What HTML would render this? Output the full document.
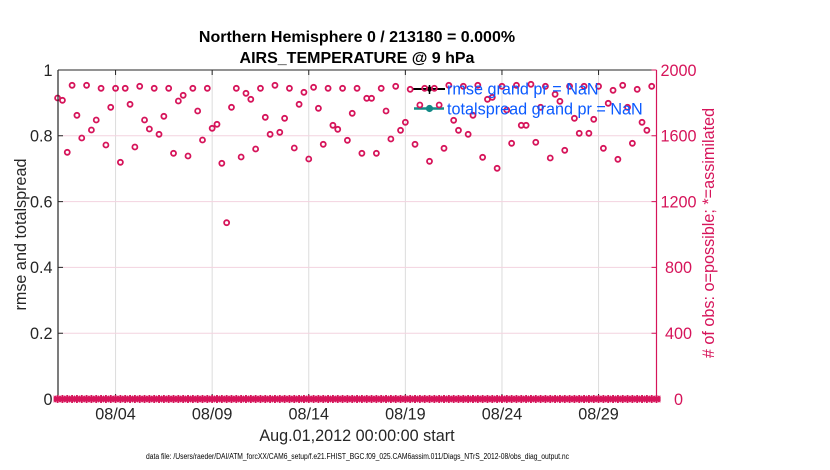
<!DOCTYPE html>
<html><head><meta charset="utf-8"><style>
html,body{margin:0;padding:0;background:#fff;}
svg{display:block;font-family:"Liberation Sans",Arial,sans-serif;}
</style></head><body>
<svg width="830" height="470" viewBox="0 0 830 470" xmlns="http://www.w3.org/2000/svg">
<defs>
<pattern id="ast" patternUnits="userSpaceOnUse" x="55.185" y="394.5" width="4.83" height="9">
<g fill="none" stroke="#d6145a" stroke-width="1.9">
<path d="M2.415 0.5v8M-2.415 0.5v8M7.245 0.5v8M0 4.5h4.83"/>
<path d="M-0.585 1.5l6 6M5.415 1.5l-6 6M-5.415 1.5l6 6M0.585 1.5l-6 6M4.245 1.5l6 6M10.245 1.5l-6 6"/>
</g>
</pattern>
</defs>
<rect width="830" height="470" fill="#fff"/>
<!-- grid -->
<g stroke="#dcdcdc" stroke-width="1">
<line x1="115.56" y1="70" x2="115.56" y2="399"/>
<line x1="212.16" y1="70" x2="212.16" y2="399"/>
<line x1="308.76" y1="70" x2="308.76" y2="399"/>
<line x1="405.36" y1="70" x2="405.36" y2="399"/>
<line x1="501.96" y1="70" x2="501.96" y2="399"/>
<line x1="598.56" y1="70" x2="598.56" y2="399"/>
</g>
<g stroke="#f3d3df" stroke-width="1">
<line x1="58" y1="135.8" x2="656.5" y2="135.8"/>
<line x1="58" y1="201.6" x2="656.5" y2="201.6"/>
<line x1="58" y1="267.4" x2="656.5" y2="267.4"/>
<line x1="58" y1="333.2" x2="656.5" y2="333.2"/>
</g>
<!-- legend lines -->
<line x1="413" y1="89" x2="445" y2="89" stroke="#000" stroke-width="2"/>
<circle cx="429.5" cy="89" r="2.6" fill="#000"/>
<line x1="429.5" y1="85" x2="429.5" y2="94" stroke="#000" stroke-width="1.5"/>
<line x1="414" y1="108.5" x2="444" y2="108.5" stroke="#138a87" stroke-width="2.6"/>
<circle cx="429.5" cy="108.5" r="3.6" fill="#138a87"/>
<!-- data circles -->
<g fill="none" stroke="#d6145a" stroke-width="1.8">
<circle cx="57.6" cy="98" r="2.5"/>
<circle cx="62.43" cy="100.3" r="2.5"/>
<circle cx="67.26" cy="152.3" r="2.5"/>
<circle cx="72.09" cy="85.3" r="2.5"/>
<circle cx="76.92" cy="115.3" r="2.5"/>
<circle cx="81.75" cy="138" r="2.5"/>
<circle cx="86.58" cy="85.3" r="2.5"/>
<circle cx="91.41" cy="130" r="2.5"/>
<circle cx="96.24" cy="120" r="2.5"/>
<circle cx="101.07" cy="88.3" r="2.5"/>
<circle cx="105.9" cy="145" r="2.5"/>
<circle cx="110.73" cy="107.3" r="2.5"/>
<circle cx="115.56" cy="88.3" r="2.5"/>
<circle cx="120.39" cy="162.3" r="2.5"/>
<circle cx="125.22" cy="88.3" r="2.5"/>
<circle cx="130.05" cy="104.3" r="2.5"/>
<circle cx="134.88" cy="147" r="2.5"/>
<circle cx="139.71" cy="86.3" r="2.5"/>
<circle cx="144.54" cy="120" r="2.5"/>
<circle cx="149.37" cy="129" r="2.5"/>
<circle cx="154.2" cy="88.3" r="2.5"/>
<circle cx="159.03" cy="134.3" r="2.5"/>
<circle cx="163.86" cy="116.3" r="2.5"/>
<circle cx="168.69" cy="88.3" r="2.5"/>
<circle cx="173.52" cy="153.3" r="2.5"/>
<circle cx="178.35" cy="101" r="2.5"/>
<circle cx="183.18" cy="95.3" r="2.5"/>
<circle cx="188.01" cy="156" r="2.5"/>
<circle cx="192.84" cy="88.3" r="2.5"/>
<circle cx="197.67" cy="111" r="2.5"/>
<circle cx="202.5" cy="140" r="2.5"/>
<circle cx="207.33" cy="88.3" r="2.5"/>
<circle cx="212.16" cy="128.3" r="2.5"/>
<circle cx="216.99" cy="124.3" r="2.5"/>
<circle cx="221.82" cy="163.3" r="2.5"/>
<circle cx="226.65" cy="222.7" r="2.5"/>
<circle cx="231.48" cy="107.3" r="2.5"/>
<circle cx="236.31" cy="88.3" r="2.5"/>
<circle cx="241.14" cy="157" r="2.5"/>
<circle cx="245.97" cy="93.3" r="2.5"/>
<circle cx="250.8" cy="99.3" r="2.5"/>
<circle cx="255.63" cy="149" r="2.5"/>
<circle cx="260.46" cy="88.3" r="2.5"/>
<circle cx="265.29" cy="117.3" r="2.5"/>
<circle cx="270.12" cy="134.3" r="2.5"/>
<circle cx="274.95" cy="85.3" r="2.5"/>
<circle cx="279.78" cy="132.3" r="2.5"/>
<circle cx="284.61" cy="118.3" r="2.5"/>
<circle cx="289.44" cy="88.3" r="2.5"/>
<circle cx="294.27" cy="148" r="2.5"/>
<circle cx="299.1" cy="104.3" r="2.5"/>
<circle cx="303.93" cy="92.3" r="2.5"/>
<circle cx="308.76" cy="159" r="2.5"/>
<circle cx="313.59" cy="87.3" r="2.5"/>
<circle cx="318.42" cy="108.3" r="2.5"/>
<circle cx="323.25" cy="144.3" r="2.5"/>
<circle cx="328.08" cy="88.3" r="2.5"/>
<circle cx="332.91" cy="125.3" r="2.5"/>
<circle cx="337.74" cy="129.3" r="2.5"/>
<circle cx="342.57" cy="88.3" r="2.5"/>
<circle cx="347.4" cy="140.3" r="2.5"/>
<circle cx="352.23" cy="113.3" r="2.5"/>
<circle cx="357.06" cy="88.3" r="2.5"/>
<circle cx="361.89" cy="153.3" r="2.5"/>
<circle cx="366.72" cy="98.3" r="2.5"/>
<circle cx="371.55" cy="98.3" r="2.5"/>
<circle cx="376.38" cy="153.3" r="2.5"/>
<circle cx="381.21" cy="88.3" r="2.5"/>
<circle cx="386.04" cy="111" r="2.5"/>
<circle cx="390.87" cy="139" r="2.5"/>
<circle cx="395.7" cy="86.3" r="2.5"/>
<circle cx="400.53" cy="130.3" r="2.5"/>
<circle cx="405.36" cy="122.3" r="2.5"/>
<circle cx="410.19" cy="89.3" r="2.5"/>
<circle cx="415.02" cy="144.3" r="2.5"/>
<circle cx="419.85" cy="105" r="2.5"/>
<circle cx="424.68" cy="88.3" r="2.5"/>
<circle cx="429.51" cy="161.3" r="2.5"/>
<circle cx="434.34" cy="88.3" r="2.5"/>
<circle cx="439.17" cy="105" r="2.5"/>
<circle cx="444" cy="148.3" r="2.5"/>
<circle cx="448.83" cy="85.3" r="2.5"/>
<circle cx="453.66" cy="120.3" r="2.5"/>
<circle cx="458.49" cy="130.3" r="2.5"/>
<circle cx="463.32" cy="86.3" r="2.5"/>
<circle cx="468.15" cy="134.3" r="2.5"/>
<circle cx="472.98" cy="115.3" r="2.5"/>
<circle cx="477.81" cy="85.3" r="2.5"/>
<circle cx="482.64" cy="157.3" r="2.5"/>
<circle cx="487.47" cy="99.3" r="2.5"/>
<circle cx="492.3" cy="97.3" r="2.5"/>
<circle cx="497.13" cy="168.3" r="2.5"/>
<circle cx="501.96" cy="86.3" r="2.5"/>
<circle cx="506.79" cy="110" r="2.5"/>
<circle cx="511.62" cy="143.3" r="2.5"/>
<circle cx="516.45" cy="85.3" r="2.5"/>
<circle cx="521.28" cy="125.3" r="2.5"/>
<circle cx="526.11" cy="125.3" r="2.5"/>
<circle cx="530.94" cy="84.3" r="2.5"/>
<circle cx="535.77" cy="142.3" r="2.5"/>
<circle cx="540.6" cy="107.3" r="2.5"/>
<circle cx="545.43" cy="86.3" r="2.5"/>
<circle cx="550.26" cy="158" r="2.5"/>
<circle cx="555.09" cy="94.3" r="2.5"/>
<circle cx="559.92" cy="101.3" r="2.5"/>
<circle cx="564.75" cy="150.3" r="2.5"/>
<circle cx="569.58" cy="86.3" r="2.5"/>
<circle cx="574.41" cy="118.3" r="2.5"/>
<circle cx="579.24" cy="133.3" r="2.5"/>
<circle cx="584.07" cy="86.3" r="2.5"/>
<circle cx="588.9" cy="133.3" r="2.5"/>
<circle cx="593.73" cy="119.3" r="2.5"/>
<circle cx="598.56" cy="86.3" r="2.5"/>
<circle cx="603.39" cy="148.3" r="2.5"/>
<circle cx="608.22" cy="103.3" r="2.5"/>
<circle cx="613.05" cy="90.3" r="2.5"/>
<circle cx="617.88" cy="159.3" r="2.5"/>
<circle cx="622.71" cy="85.3" r="2.5"/>
<circle cx="627.54" cy="107.3" r="2.5"/>
<circle cx="632.37" cy="143.3" r="2.5"/>
<circle cx="637.2" cy="89.3" r="2.5"/>
<circle cx="642.03" cy="122.3" r="2.5"/>
<circle cx="646.86" cy="130.3" r="2.5"/>
<circle cx="651.69" cy="86.3" r="2.5"/>
</g>
<!-- axes -->
<line x1="58" y1="70" x2="656.5" y2="70" stroke="#262626" stroke-width="1"/>
<line x1="58" y1="399" x2="656.5" y2="399" stroke="#262626" stroke-width="1"/>
<line x1="58" y1="70" x2="58" y2="399" stroke="#262626" stroke-width="1.2"/>
<line x1="656.5" y1="70" x2="656.5" y2="399" stroke="#d6145a" stroke-width="1.2"/>
<g stroke="#262626" stroke-width="1">
<path d="M115.56 399v-5M212.16 399v-5M308.76 399v-5M405.36 399v-5M501.96 399v-5M598.56 399v-5"/>
<path d="M115.56 70v5M212.16 70v5M308.76 70v5M405.36 70v5M501.96 70v5M598.56 70v5"/>
<path d="M58 70h5M58 135.8h5M58 201.6h5M58 267.4h5M58 333.2h5"/>
</g>
<g stroke="#d6145a" stroke-width="1">
<path d="M656.5 70h-5M656.5 135.8h-5M656.5 201.6h-5M656.5 267.4h-5M656.5 333.2h-5"/>
</g>
<!-- assimilated asterisks at zero -->
<rect x="53.6" y="394.5" width="607" height="9" fill="url(#ast)"/>
<!-- legend text -->
<g font-size="16.2" fill="#0a5aff">
<text x="447" y="94.5">rmse grand pr = NaN</text>
<text x="447" y="114.5">totalspread grand pr = NaN</text>
</g>
<!-- titles -->
<g font-weight="bold" font-size="16" fill="#000" text-anchor="middle">
<text x="357" y="42">Northern Hemisphere 0 / 213180 = 0.000%</text>
<text x="357" y="63">AIRS_TEMPERATURE @ 9 hPa</text>
</g>
<!-- left tick labels -->
<g font-size="16.2" fill="#262626" text-anchor="end">
<text x="52.5" y="75.8">1</text>
<text x="52.5" y="141.6">0.8</text>
<text x="52.5" y="207.4">0.6</text>
<text x="52.5" y="273.2">0.4</text>
<text x="52.5" y="339">0.2</text>
<text x="52.5" y="404.8">0</text>
</g>
<!-- right tick labels -->
<g font-size="16.2" fill="#d6145a" text-anchor="middle">
<text x="678.5" y="75.8">2000</text>
<text x="678.5" y="141.6">1600</text>
<text x="678.5" y="207.4">1200</text>
<text x="678.5" y="273.2">800</text>
<text x="678.5" y="339">400</text>
<text x="678.5" y="404.8">0</text>
</g>
<!-- x tick labels -->
<g font-size="16.2" fill="#262626" text-anchor="middle">
<text x="115.56" y="419.5">08/04</text>
<text x="212.16" y="419.5">08/09</text>
<text x="308.76" y="419.5">08/14</text>
<text x="405.36" y="419.5">08/19</text>
<text x="501.96" y="419.5">08/24</text>
<text x="598.56" y="419.5">08/29</text>
<text x="357" y="441">Aug.01,2012 00:00:00 start</text>
</g>
<!-- y labels -->
<text font-size="16.2" fill="#262626" text-anchor="middle" transform="translate(26,234.5) rotate(-90)">rmse and totalspread</text>
<text font-size="16.2" fill="#d6145a" text-anchor="middle" transform="translate(714,233) rotate(-90)"># of obs: o=possible; *=assimilated</text>
<!-- data file -->
<text x="146" y="459" font-size="8" fill="#000" textLength="423" lengthAdjust="spacingAndGlyphs">data file: /Users/raeder/DAI/ATM_forcXX/CAM6_setup/f.e21.FHIST_BGC.f09_025.CAM6assim.011/Diags_NTrS_2012-08/obs_diag_output.nc</text>
</svg>
</body></html>
